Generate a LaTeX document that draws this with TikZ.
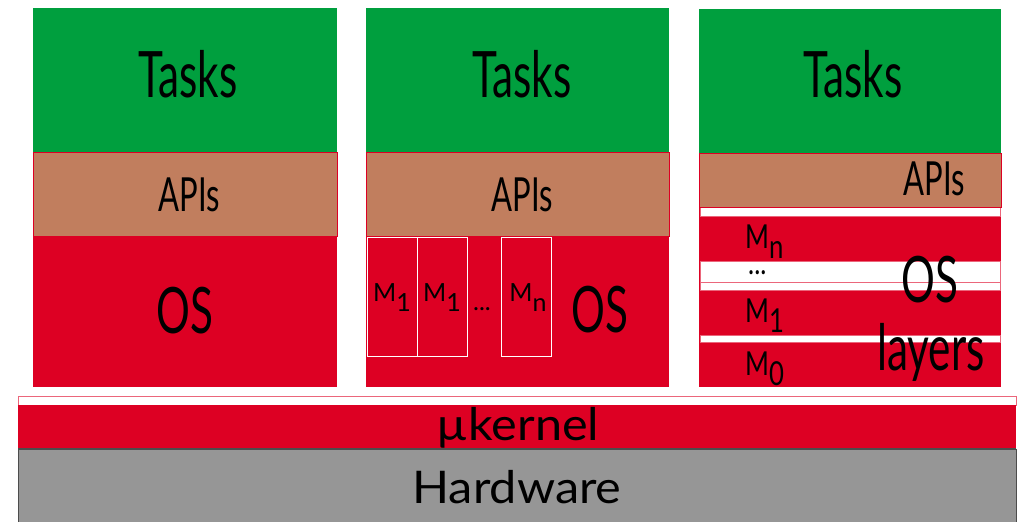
\documentclass[tikz,border=0pt]{standalone}
\usepackage{fontspec}
\newfontfamily\lbl[FakeStretch=0.66]{Lato}
\newfontfamily\lblwide[FakeStretch=1.08]{Lato}
\newfontfamily\lblplain{Lato}
\newfontfamily\lblnarrow[FakeStretch=0.78]{Lato}
\definecolor{taskgreen}{RGB}{0,159,62}
\definecolor{apibrown}{RGB}{193,126,94}
\definecolor{osred}{RGB}{221,0,35}
\definecolor{hwgrey}{RGB}{150,150,150}
% module label: M with a full-size, lowered index
\newcommand\Mlab[1]{M\raisebox{-10pt}{#1}}
\tikzset{
  big/.style={font=\lbl\fontsize{64}{64}\selectfont, inner sep=0pt, anchor=base},
  mid/.style={font=\lbl\fontsize{47}{47}\selectfont, inner sep=0pt, anchor=base},
  base/.style={font=\lblwide\fontsize{45}{45}\selectfont, inner sep=0pt, anchor=base},
  small/.style={font=\lblplain\fontsize{25}{25}\selectfont, inner sep=0pt, anchor=base},
  layer/.style={font=\lblnarrow\fontsize{33}{33}\selectfont, inner sep=0pt, anchor=base west},
  ellip/.style={text height=3pt, text depth=0pt},
  tasks/.style={fill=taskgreen},
  apis/.style={fill=apibrown, draw=osred, line width=0.8pt},
  os/.style={fill=osred},
  module/.style={draw=white, line width=1pt},
  gap/.style={fill=white, draw=osred!60, line width=0.5pt},
}
\begin{document}
\begin{tikzpicture}[x=1pt,y=-1pt]
\useasboundingbox (0,0) rectangle (1018,522);

% left stack: monolithic OS
\path[tasks] (33,8) rectangle (337,152);
\path[os] (33,236) rectangle (337,387);
\path[apis] (33,152) rectangle (337,236);
\node[big] (tasksA) at (188,97) {Tasks};
\node[mid] (apisA) at (189,211) {APIs};
\node[big] (osA) at (185,333) {OS};

% middle stack: modular OS
\path[tasks] (366,8) rectangle (669,152);
\path[os] (366,236) rectangle (669,387);
\path[apis] (366,152) rectangle (669,236);
\path[module] (367,237) rectangle (417,356);
\path[module] (417,237) rectangle (467,356);
\path[module] (501,237) rectangle (551,356);
\node[big] (tasksB) at (522,97) {Tasks};
\node[mid] (apisB) at (522,211) {APIs};
\node[small] (mB1) at (392,301) {\Mlab{1}};
\node[small] (mB2) at (442,301) {\Mlab{1}};
\node[small, ellip] (dotsB) at (482,310) {...};
\node[small] (mBn) at (528,301) {\Mlab{n}};
\node[big] (osB) at (600,332) {OS};

% right stack: layered OS
\path[tasks] (699,9) rectangle (1001,153);
\path[os] (699,207) rectangle (1001,387);
\path[gap] (700,207) rectangle (1000,216);
\path[gap] (700,261) rectangle (1000,282);
\path[gap] (700,282) rectangle (1000,290);
\path[gap] (700,335) rectangle (1000,342);
\path[apis] (699,153) rectangle (1001,207);
\node[big] (tasksC) at (853,97) {Tasks};
\node[mid] (apisC) at (934,195) {APIs};
\node[layer] (mCn) at (745,248) {\Mlab{n}};
\node[layer, ellip] (dotsC) at (748,274) {...};
\node[layer] (mC1) at (745,322) {\Mlab{1}};
\node[layer] (mC0) at (745,375) {\Mlab{0}};
\node[big] (osC) at (930,302) {OS};
\node[big] (layersC) at (931,370) {layers};

% microkernel and hardware
\path[fill=white, draw=osred!60, line width=0.8pt] (18,396) rectangle (1016,405);
\path[os] (18,405) rectangle (1016,449);
\path[fill=hwgrey, draw=black!70, line width=0.8pt] (18,449) rectangle (1016,523);
\draw[black!70, line width=1.2pt] (18,449) -- (1016,449);
\node[base] (kernel) at (518,440) {µkernel};
\node[base] (hw) at (517,503) {Hardware};
\end{tikzpicture}
\end{document}
